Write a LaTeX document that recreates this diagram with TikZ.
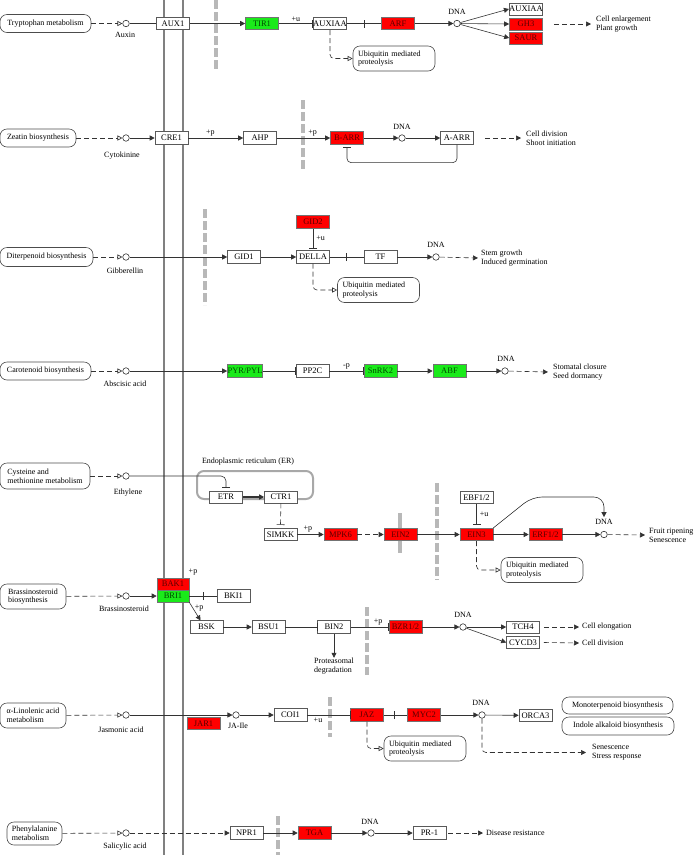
\documentclass[tikz,border=0pt]{standalone}
\usepackage{fontspec}
\setmainfont{Liberation Serif}
\usetikzlibrary{arrows.meta,decorations.markings}
\definecolor{kred}{HTML}{FF0000}
\definecolor{kredtxt}{HTML}{5A0000}
\definecolor{kgreen}{HTML}{1AEA1A}
\definecolor{kgreentxt}{HTML}{004A00}
\definecolor{kgray}{HTML}{B8B8B8}
\definecolor{kmem}{HTML}{808080}
\definecolor{kergray}{HTML}{A8A8A8}
\newcommand{\kgf}{\fontsize{8}{8.8}\selectfont}
\newcommand{\kgenef}{\fontsize{8.5}{9}\selectfont}
\tikzset{
 gene/.style={draw=black!65, fill=white, minimum width=33pt, minimum height=12.5pt, inner sep=0pt, font=\kgenef, line width=0.6pt},
 rgene/.style={gene, fill=kred, text=kredtxt, draw=black!55},
 ggene/.style={gene, fill=kgreen, text=kgreentxt, draw=black!55},
 mapbox/.style={draw=black!70, rounded corners=7pt, inner sep=0pt, font=\kgf, line width=0.6pt, align=center},
 cpd/.style={circle, draw=black!80, fill=white, minimum size=6.5pt, inner sep=0pt, line width=0.6pt},
 lbl/.style={font=\kgf, inner sep=0pt},
 outtxt/.style={font=\kgf, inner sep=0pt, anchor=west, align=left},
 conn/.style={draw=black!80, line width=0.6pt},
 arr/.style={conn, -{Triangle[length=5pt,width=5pt]}},
 inh/.style={conn, -{Bar[width=8pt]}},
 dasharr/.style={arr, dash pattern=on 5pt off 3pt},
 cpdarr/.style={conn, dash pattern=on 5pt off 3pt, -{Triangle[open,length=5pt,width=5pt]}},
 ubq/.style={draw=black!70, fill=white, rounded corners=7pt, font=\kgf, align=left, inner sep=0pt, minimum width=82pt, minimum height=25pt, text width=72pt, line width=0.6pt},
 gbar/.style={draw=kgray, line width=4pt, dash pattern=on 9pt off 3pt},
 membrane/.style={draw=kmem, line width=2.5pt},
 midbar/.style={postaction={decorate, decoration={markings, mark=at position #1 with {\draw[draw=black!80, line width=0.6pt] (0,-4pt) -- (0,4pt);}}}},
}
\begin{document}
\begin{tikzpicture}[x=1pt,y=-1pt]
\useasboundingbox (0,0) rectangle (696,855);
% membranes
\draw[membrane] (164,0) -- (164,855);
\draw[membrane] (183,0) -- (183,855);

% ---------------- Row 1: Auxin
\draw[gbar] (216,0) -- (216,69);
\node[mapbox, minimum width=91pt, minimum height=18pt] (m1) at (45.5,23.5) {Tryptophan metabolism};
\node[cpd] (c1) at (126,23.5) {};
\node[lbl] at (125,35) {Auxin};
\draw[cpdarr] (m1) -- (c1);
\node[gene] (aux1) at (173,23.5) {AUX1};
\node[ggene] (tir1) at (262,23.5) {TIR1};
\node[gene] (auxiaa) at (330,23.5) {AUXIAA};
\node[rgene] (arf) at (398,23.5) {ARF};
\node[cpd] (d1) at (457,23.5) {};
\node[lbl] at (457,12) {DNA};
\node[gene, minimum height=12pt] (auxiaa2) at (526,9) {AUXIAA};
\node[rgene, minimum height=12pt] (gh3) at (526,24) {GH3};
\node[rgene, minimum height=12pt] (saur) at (526,38) {SAUR};
\draw[conn] (c1) -- (aux1);
\draw[arr] (aux1) -- (tir1);
\draw[inh] (tir1) -- node[lbl, above=2pt]{+u} (auxiaa);
\draw[conn, midbar=0.5] (auxiaa) -- (arf);
\draw[arr] (arf) -- (d1);
\draw[arr] (d1) -- (auxiaa2.west);
\draw[arr] (d1) -- (gh3.west);
\draw[arr] (d1) -- (saur.west);
\node[outtxt] (o1) at (596,24) {Cell enlargement\\Plant growth};
\draw[dasharr] ([xshift=11pt]gh3.east) -- ([xshift=-5pt]o1.west);
\node[ubq] (u1) at (394,58.5) {Ubiquitin mediated\\proteolysis};
\draw[cpdarr, rounded corners=4pt] (auxiaa.south) |- (u1.west);

% ---------------- Row 2: Cytokinine
\draw[gbar] (303,100) -- (303,170);
\node[mapbox, minimum width=76pt, minimum height=18pt] (m2) at (38,138) {Zeatin biosynthesis};
\node[cpd] (c2) at (126,138) {};
\node[lbl] at (122,156) {Cytokinine};
\draw[cpdarr] (m2) -- (c2);
\node[gene] (cre1) at (171.5,138) {CRE1};
\draw[arr] (c2) -- (cre1);
\node[gene] (ahp) at (260,138) {AHP};
\draw[arr] (cre1) -- node[lbl, above=2pt, pos=0.4]{+p} (ahp);
\node[rgene] (barr) at (347,138) {B-ARR};
\draw[arr] (ahp) -- node[lbl, above=2pt, pos=0.67]{+p} (barr);
\node[cpd] (d2) at (402,138) {};
\node[lbl] at (402,127) {DNA};
\draw[arr] (barr) -- (d2);
\node[gene] (aarr) at (457,138) {A-ARR};
\draw[arr] (d2) -- (aarr);
\draw[inh, rounded corners=4pt] (aarr.south) -- ++(0,18) -| ([yshift=-2pt]barr.south);
\node[outtxt] (o2) at (526,138) {Cell division\\Shoot initiation};
\draw[dasharr] ([xshift=11pt]aarr.east) -- ([xshift=-5pt]o2.west);

% ---------------- Row 3: Gibberellin
\draw[gbar] (205,209) -- (205,305);
\node[mapbox, minimum width=93pt, minimum height=19pt] (m3) at (46.5,257) {Diterpenoid biosynthesis};
\node[cpd] (c3) at (126,257) {};
\node[lbl] at (125,271) {Gibberellin};
\draw[cpdarr] (m3) -- (c3);
\node[gene] (gid1) at (244,257) {GID1};
\draw[arr] (c3) -- (gid1);
\node[gene] (della) at (313,257) {DELLA};
\draw[arr] (gid1) -- (della);
\node[rgene] (gid2) at (313,222) {GID2};
\draw[inh] (gid2) -- node[lbl, right=3pt]{+u} ([yshift=2pt]della.north);
\node[gene] (tf) at (380.5,257) {TF};
\draw[conn, midbar=0.5] (della) -- (tf);
\node[cpd] (d3) at (436,257) {};
\node[lbl] at (436,245) {DNA};
\draw[arr] (tf) -- (d3);
\node[outtxt] (o3) at (481,258) {Stem growth\\Induced germination};
\draw[dasharr] (d3) -- ([xshift=-3pt]o3.west);
\node[ubq] (u3) at (378.5,290) {Ubiquitin mediated\\proteolysis};
\draw[cpdarr, rounded corners=4pt] (della.south) |- (u3.west);

% ---------------- Row 4: Abscisic acid
\node[mapbox, minimum width=91pt, minimum height=18pt] (m4) at (45.5,371) {Carotenoid biosynthesis};
\node[cpd] (c4) at (126,371) {};
\node[lbl] at (125,384) {Abscisic acid};
\draw[cpdarr] (m4) -- (c4);
\node[ggene] (pyr) at (245,371) {PYR/PYL};
\node[gene] (pp2c) at (312.5,371) {PP2C};
\node[ggene] (snrk2) at (380.5,371) {SnRK2};
\node[ggene] (abf) at (449.5,371) {ABF};
\node[cpd] (d4) at (505,371) {};
\node[lbl] at (506,359) {DNA};
\draw[arr] (c4) -- (pyr);
\draw[inh] (pyr) -- (pp2c);
\draw[inh] (pp2c) -- node[lbl, above=2pt]{-p} (snrk2);
\draw[arr] (snrk2) -- (abf);
\draw[arr] (abf) -- (d4);
\node[outtxt] (o4) at (553,372) {Stomatal closure\\Seed dormancy};
\draw[dasharr] (d4) -- ([xshift=-5pt]o4.west);

% ---------------- Row 5: Ethylene
\draw[draw=kergray, line width=2pt, rounded corners=7pt] (197,471) rectangle (313,499);
\node[lbl] at (248,462) {Endoplasmic reticulum (ER)};
\node[mapbox, minimum width=90pt, minimum height=26pt, align=left] (m5) at (45,476) {Cysteine and\\methionine metabolism};
\node[cpd] (c5) at (126,476) {};
\node[lbl] at (128,493) {Ethylene};
\draw[cpdarr] (m5) -- (c5);
\node[gene, minimum height=12pt] (etr) at (226,497) {ETR};
\node[gene, minimum height=12pt] (ctr1) at (281,497) {CTR1};
\draw[inh, rounded corners=5pt] (c5) -| ([yshift=3pt]etr.north);
\draw[arr, line width=1.3pt] (etr) -- (ctr1);
\node[gene] (simkk) at (280.5,534.5) {SIMKK};
\draw[inh, dash pattern=on 5pt off 3pt] (ctr1) -- ([yshift=3pt]simkk.north);
\node[rgene] (mpk6) at (340.5,534.5) {MPK6};
\draw[arr] (simkk) -- node[lbl, above=2pt, pos=0.4]{+p} (mpk6);
\draw[draw=kgray, line width=4.5pt] (400,513) -- (400,553);
\node[rgene] (ein2) at (400.5,534.5) {EIN2};
\draw[dasharr] (mpk6) -- (ein2);
\draw[gbar] (437,483) -- (437,580);
\node[rgene] (ein3) at (476.5,534.5) {EIN3};
\draw[arr] (ein2) -- (ein3);
\node[gene, minimum height=12pt] (ebf) at (476.5,497.5) {EBF1/2};
\draw[inh] (ebf) -- node[lbl, right=3pt]{+u} ([yshift=3pt]ein3.north);
\node[rgene] (erf) at (545.5,534.5) {ERF1/2};
\draw[arr] (ein3) -- (erf);
\node[cpd] (d5) at (604,534.5) {};
\node[lbl] (dl5) at (604,522) {DNA};
\draw[arr] (erf) -- (d5);
\draw[arr, rounded corners=10pt] (ein3.north east) -- (532,497) -| ([yshift=2pt]dl5.north);
\node[outtxt] (o5) at (649,535) {Fruit ripening\\Senescence};
\draw[dasharr] (d5) -- ([xshift=-4pt]o5.west);
\node[ubq] (u5) at (542,570) {Ubiquitin mediated\\proteolysis};
\draw[cpdarr, rounded corners=4pt] (ein3.south) |- (u5.west);

% ---------------- Row 6: Brassinosteroid
\node[mapbox, minimum width=66pt, minimum height=25pt, align=left] (m6) at (33,596.5) {Brassinosteroid\\biosynthesis};
\node[cpd] (c6) at (126,596) {};
\node[lbl] at (124,609) {Brassinosteroid};
\draw[cpdarr] (m6) -- (c6);
\node[ggene, minimum width=32pt, minimum height=12pt] (bri1) at (173,596) {BRI1};
\node[rgene, minimum width=32pt, minimum height=12pt] (bak1) at (173,584) {BAK1};
\node[lbl] at (193,572) {+p};
\draw[arr] (c6) -- (bri1);
\node[gene] (bki1) at (233.5,596) {BKI1};
\draw[conn, midbar=0.5] (bri1) -- (bki1);
\node[gene] (bsk) at (206.5,627) {BSK};
\draw[arr] (bri1.south east) -- node[lbl, right=2pt, pos=0.3]{+p} ([xshift=-6pt]bsk.north);
\node[gene] (bsu1) at (268.5,627) {BSU1};
\draw[arr] (bsk) -- (bsu1);
\node[gene] (bin2) at (334,627) {BIN2};
\draw[inh] (bsu1) -- (bin2);
\node[lbl, align=left] (pd) at (334,666) {Proteasomal\\degradation};
\draw[arr] (bin2) -- (pd);
\draw[gbar] (367,607) -- (367,675);
\node[rgene] (bzr) at (405.5,627) {BZR1/2};
\draw[inh] (bin2) -- node[lbl, above=2pt, pos=0.72]{+p} (bzr);
\node[cpd] (d6) at (463,627) {};
\node[lbl] at (463,615) {DNA};
\draw[arr] (bzr) -- (d6);
\node[gene, minimum height=12pt] (tch4) at (523,627) {TCH4};
\node[gene, minimum height=12pt] (cycd3) at (523,642.5) {CYCD3};
\draw[arr] (d6) -- (tch4);
\draw[arr] (d6) -- (cycd3.west);
\node[outtxt] (o6a) at (582,627) {Cell elongation};
\node[outtxt] (o6b) at (582,643) {Cell division};
\draw[dasharr] ([xshift=4pt]tch4.east) -- ([xshift=-3pt]o6a.west);
\draw[dasharr] ([xshift=4pt]cycd3.east) -- ([xshift=-3pt]o6b.west);

% ---------------- Row 7: Jasmonic acid
\draw[gbar] (330,697) -- (330,737);
\node[mapbox, minimum width=66pt, minimum height=25pt, align=left] (m7) at (33,715.5) {α-Linolenic acid\\metabolism};
\node[cpd] (c7) at (126,715) {};
\node[lbl] at (121,730) {Jasmonic acid};
\draw[cpdarr] (m7) -- (c7);
\node[cpd] (jaile) at (236,715) {};
\node[lbl] at (238,725.5) {JA-Ile};
\node[rgene, minimum height=11.5pt] (jar1) at (203.5,723.5) {JAR1};
\draw[arr] (c7) -- (jaile);
\node[gene] (coi1) at (290.5,715) {COI1};
\draw[arr] (jaile) -- (coi1);
\node[rgene] (jaz) at (367,715) {JAZ};
\draw[inh] (coi1) -- (jaz);
\node[lbl] at (318,720.5) {+u};
\node[rgene] (myc2) at (424,715) {MYC2};
\draw[conn, midbar=0.44] (jaz) -- (myc2);
\node[cpd] (d7) at (482,715) {};
\node[lbl] at (481,703) {DNA};
\draw[arr] (myc2) -- (d7);
\node[gene, minimum height=12pt] (orca3) at (535.5,715.5) {ORCA3};
\draw[arr] (d7) -- (orca3);
\node[mapbox, minimum width=111pt, minimum height=17pt] (mono) at (617.5,705.5) {Monoterpenoid biosynthesis};
\node[mapbox, minimum width=112pt, minimum height=18pt] (indole) at (618,726) {Indole alkaloid biosynthesis};
\node[outtxt] (o7) at (592,752.5) {Senescence\\Stress response};
\draw[dasharr, rounded corners=4pt] (d7) |- ([xshift=-6pt]o7.west);
\node[ubq] (u7) at (425,748.5) {Ubiquitin mediated\\proteolysis};
\draw[cpdarr, rounded corners=4pt] (jaz.south) |- (u7.west);

% ---------------- Row 8: Salicylic acid
\node[mapbox, minimum width=55pt, minimum height=23pt, align=left] (m8) at (34.5,833.5) {Phenylalanine\\metabolism};
\node[cpd] (c8) at (126,833) {};
\node[lbl] at (125,847) {Salicylic acid};
\draw[cpdarr] (m8) -- (c8);
\node[gene] (npr1) at (246.5,833) {NPR1};
\draw[dasharr] (c8) -- (npr1);
\draw[gbar] (278,816) -- (278,855);
\node[rgene] (tga) at (314.5,833) {TGA};
\draw[arr] (npr1) -- (tga);
\node[cpd] (d8) at (371,833) {};
\node[lbl] at (370,822) {DNA};
\draw[arr] (tga) -- (d8);
\node[gene] (pr1) at (429.5,833) {PR-1};
\draw[arr] (d8) -- (pr1);
\node[outtxt] (o8) at (486,833) {Disease resistance};
\draw[dasharr] ([xshift=2pt]pr1.east) -- ([xshift=-3pt]o8.west);
\end{tikzpicture}
\end{document}
